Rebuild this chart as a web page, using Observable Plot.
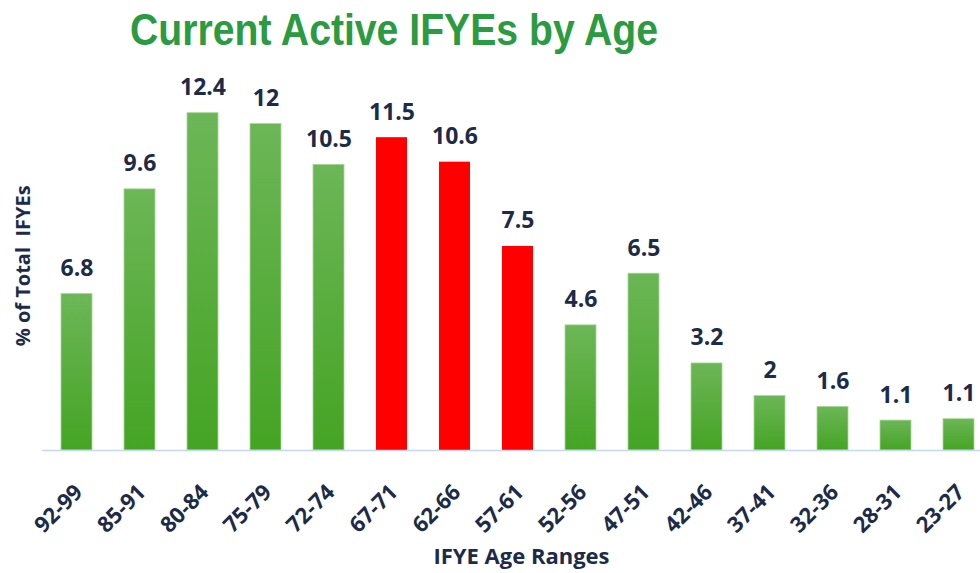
<!DOCTYPE html>
<html>
<head>
<meta charset="utf-8">
<script src="https://cdn.jsdelivr.net/npm/d3@7"></script>
<script src="https://cdn.jsdelivr.net/npm/@observablehq/plot@0.6"></script>
<style>
  html, body { margin: 0; padding: 0; background: #fff; }
  #title {
    height: 60px; line-height: 60px; padding-left: 130px; overflow: visible;
    font-family: "Liberation Sans", Arial, sans-serif;
    font-weight: bold; font-size: 44px; color: #2b9a40; white-space: nowrap;
  }
  #title span { display: inline-block; transform: scaleX(0.89); transform-origin: left center; }
  #chart svg { display: block; }
</style>
</head>
<body>
<div id="title"><span>Current Active IFYEs by Age</span></div>
<div id="chart"></div>
<script>
// Categories (age ranges), bar heights as drawn, and printed data labels
const ageRanges = ["92-99","85-91","80-84","75-79","72-74","67-71","62-66","57-61","52-56","47-51","42-46","37-41","32-36","28-31","23-27"];
const barValues = [5.75, 9.6, 12.4, 12, 10.5, 11.5, 10.6, 7.5, 4.6, 6.5, 3.2, 2, 1.6, 1.1, 1.15];
const valueLabels = ["6.8","9.6","12.4","12","10.5","11.5","10.6","7.5","4.6","6.5","3.2","2","1.6","1.1","1.1"];
const highlighted = ["67-71","62-66","57-61"];

const data = ageRanges.map((a, i) => ({age: a, value: barValues[i], label: valueLabels[i], red: highlighted.includes(a)}));

const navy = "#1c2b47";
const font = "'Open Sans', sans-serif";

const chart = Plot.plot({
  width: 980,
  height: 513,
  marginLeft: 42,
  marginRight: 0,
  marginTop: 52.7,
  marginBottom: 123,
  style: {fontFamily: font, background: "white"},
  x: {domain: ageRanges, range: [41.8, 992.8], paddingInner: 0.51, paddingOuter: 0.255, axis: null},
  y: {domain: [0, 12.4], axis: null},
  marks: [
    Plot.barY(data.filter(d => !d.red), {x: "age", y: "value", fill: "url(#greenGrad)", stroke: "#a9d697", strokeWidth: 0.8}),
    Plot.barY(data.filter(d => d.red), {x: "age", y: "value", fill: "#ff0000"}),
    Plot.ruleY([0], {stroke: "#c5d8ef", strokeWidth: 1.5}),
    Plot.text(data, {x: "age", y: "value", text: "label", lineAnchor: "bottom", dy: -18, fontSize: 23, fontWeight: 700, fill: navy}),
    Plot.text(data, {x: "age", y: () => 0, text: "age", rotate: -45, textAnchor: "end", lineAnchor: "middle", dx: 2, dy: 38, fontSize: 22, fontWeight: 700, fill: navy}),
    Plot.text(["% of Total\u00a0 IFYEs"], {frameAnchor: "left", textAnchor: "middle", rotate: -90, dx: -19, dy: -16, fontSize: 20, fontWeight: 700, fill: navy}),
    Plot.text(["IFYE Age Ranges"], {frameAnchor: "bottom", dx: 10, dy: 113, fontSize: 22, fontWeight: 700, fill: navy})
  ]
});

const svg = d3.select(chart);
const defs = svg.insert("defs", ":first-child");
const g = defs.append("linearGradient").attr("id", "greenGrad").attr("x1", 0).attr("y1", 0).attr("x2", 0).attr("y2", 1);
g.append("stop").attr("offset", "0%").attr("stop-color", "#6cb657");
g.append("stop").attr("offset", "100%").attr("stop-color", "#45a424");

document.getElementById("chart").appendChild(chart);
</script>
</body>
</html>
